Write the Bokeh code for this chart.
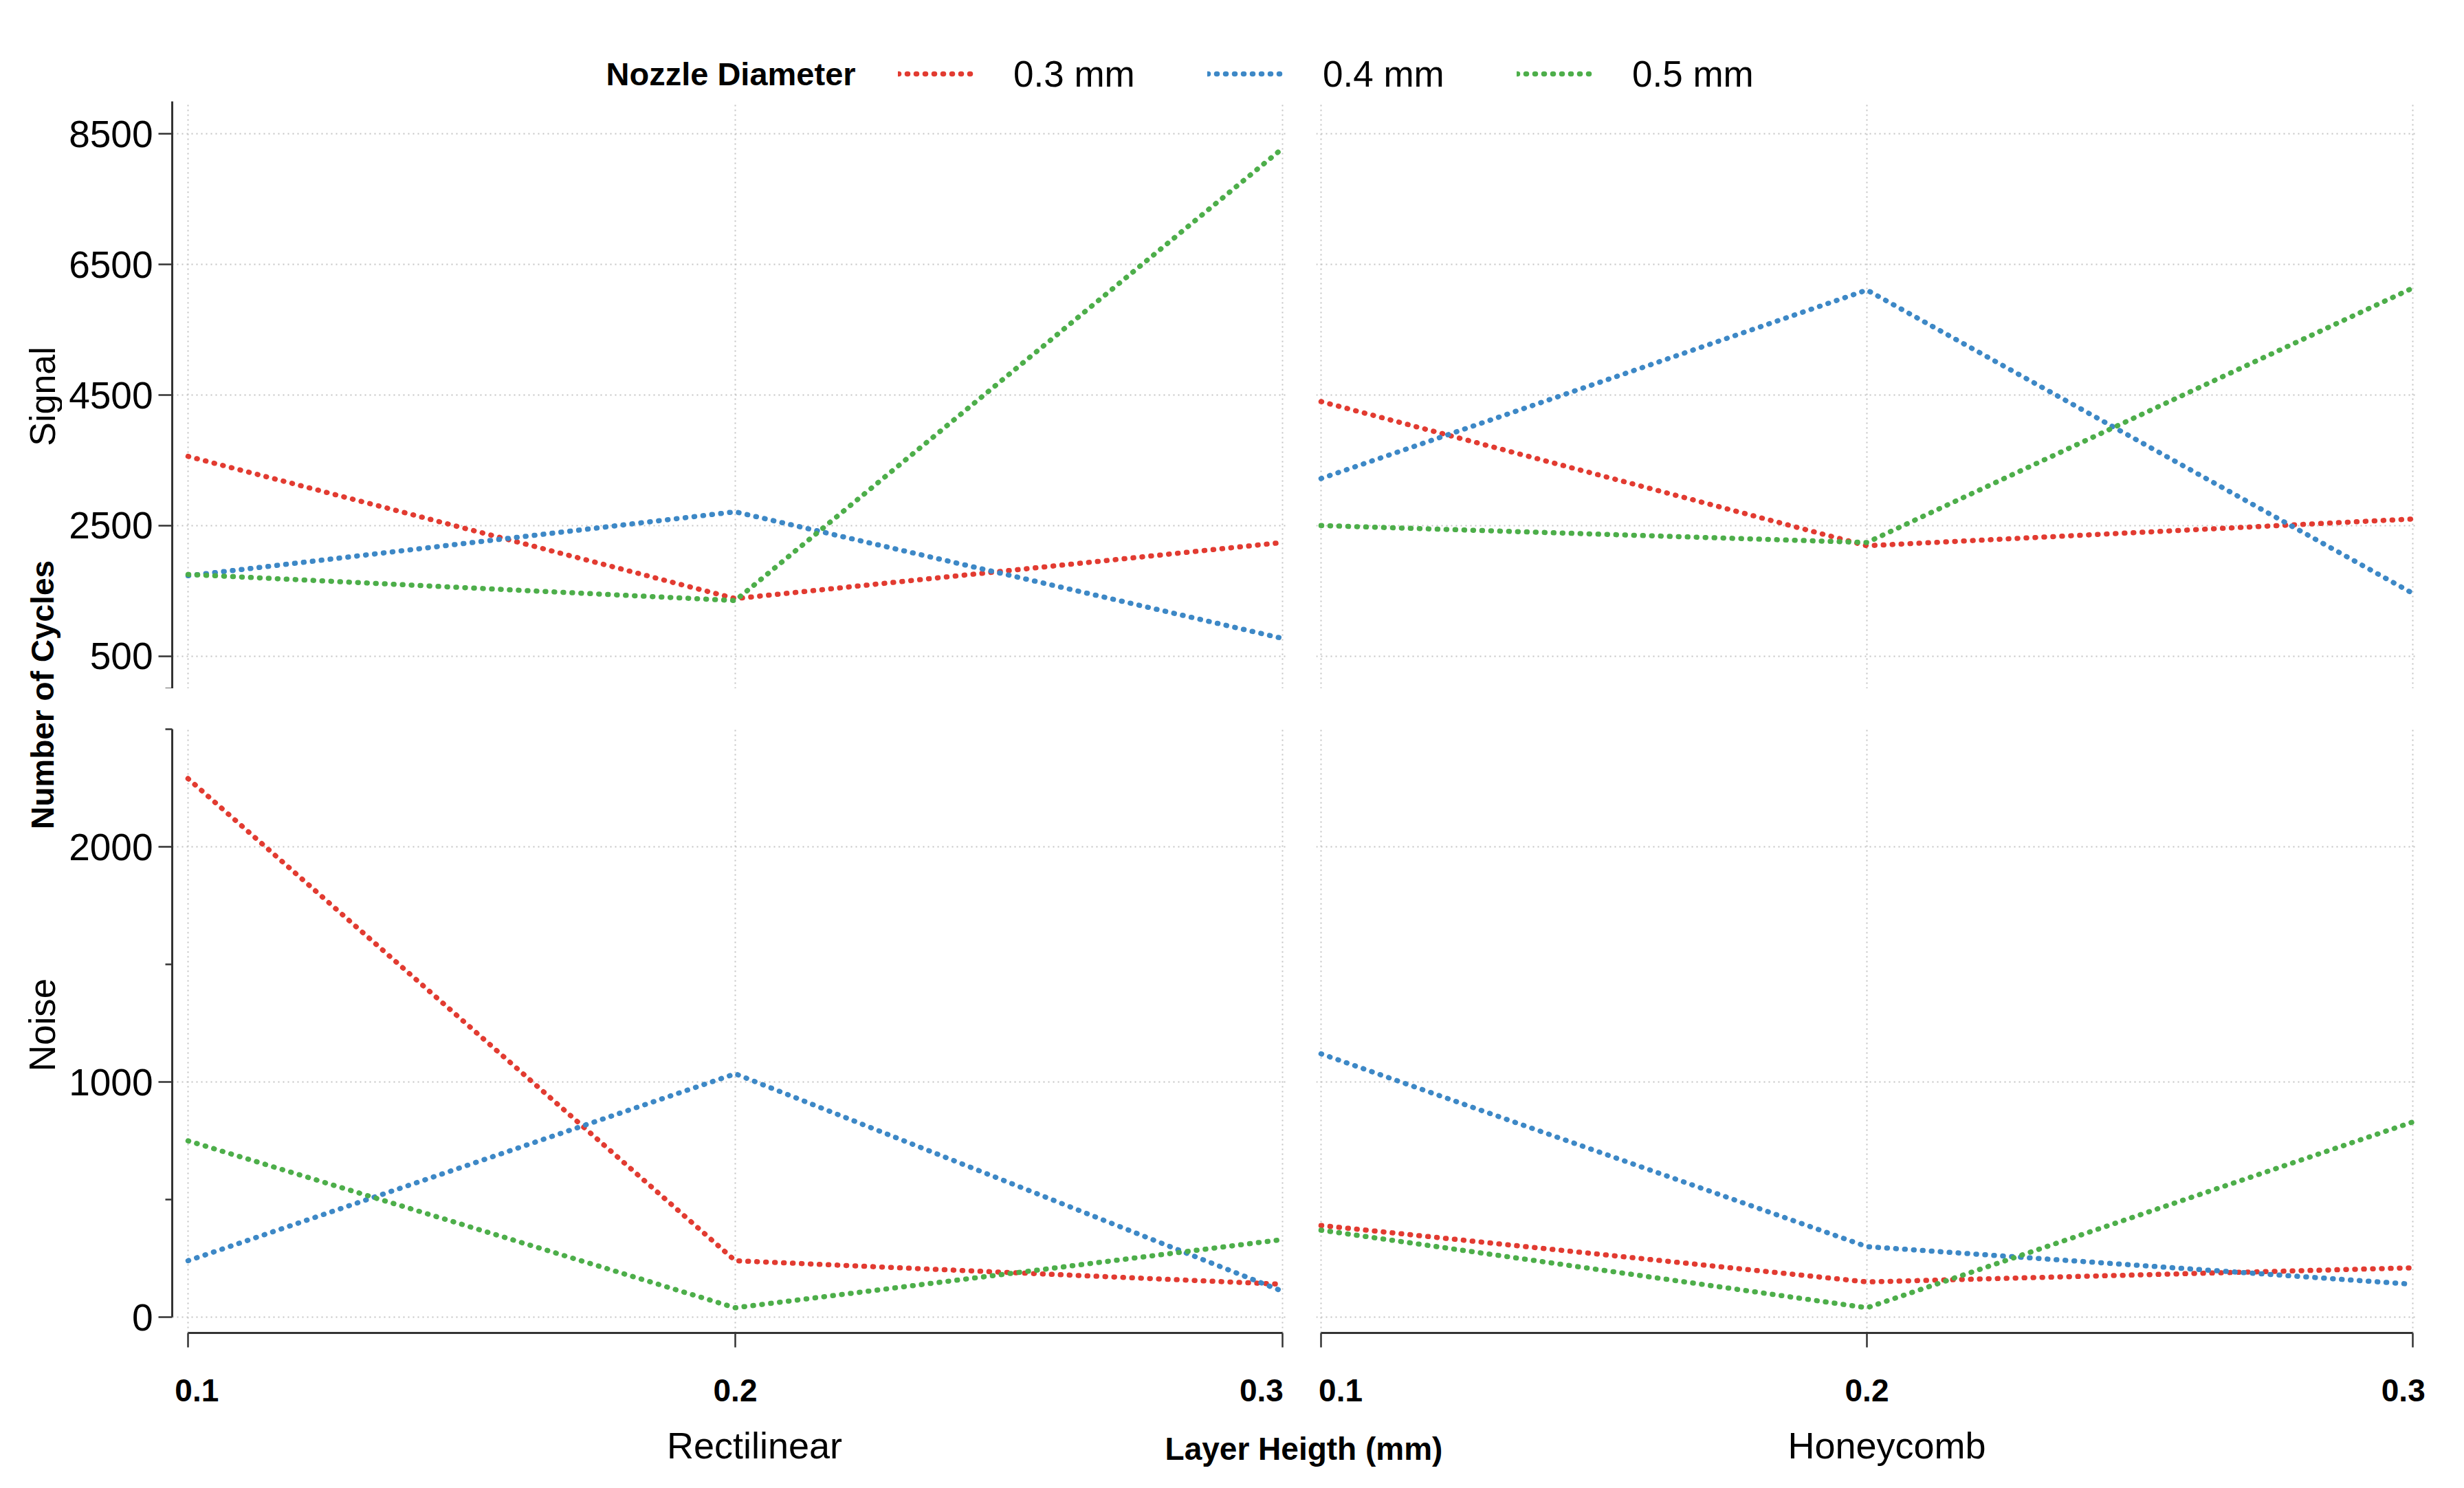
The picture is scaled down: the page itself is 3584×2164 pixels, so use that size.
from math import pi
from bokeh.plotting import figure
from bokeh.layouts import row, column
from bokeh.models import (Range1d, LinearAxis, Grid, FixedTicker, Label,
                          Legend, LegendItem)
from bokeh.embed import file_html
from bokeh.resources import INLINE

# ---------------- data ----------------
layer_height = [0.1, 0.2, 0.3]
nozzles = ["0.3 mm", "0.4 mm", "0.5 mm"]

signal_rect_03 = [3560, 1380, 2240]
signal_rect_04 = [1730, 2710, 770]
signal_rect_05 = [1750, 1350, 8280]

signal_honey_03 = [4400, 2190, 2600]
signal_honey_04 = [3220, 6110, 1460]
signal_honey_05 = [2500, 2240, 6140]

noise_rect_03 = [2290, 240, 140]
noise_rect_04 = [240, 1035, 110]
noise_rect_05 = [750, 40, 330]

noise_honey_03 = [390, 150, 210]
noise_honey_04 = [1120, 300, 140]
noise_honey_05 = [370, 40, 830]

signal_ticks = [500, 2500, 4500, 6500, 8500]
noise_ticks = [0, 1000, 2000]
noise_minor_ticks = [500, 1500, 2500]
x_ticks = [0.1, 0.2, 0.3]

# ---------------- style ----------------
FONT = "Liberation Sans"
colors = ["#e23b31", "#3d88c6", "#4dae4a"]
AX = "#333333"
GRID = "#c4c4c4"
DASH = "1 12"
LW = 7.5


def make_panel(width, height, xr, yr, bl, br, bt, bb, series, yticks):
    p = figure(width=width, height=height, x_range=xr, y_range=yr,
               x_axis_type=None, y_axis_type=None,
               min_border_left=bl, min_border_right=br,
               min_border_top=bt, min_border_bottom=bb,
               output_backend="svg", toolbar_location=None)
    p.outline_line_color = None
    p.background_fill_color = "white"
    p.border_fill_color = "white"
    p.add_layout(Grid(dimension=0, ticker=FixedTicker(ticks=x_ticks),
                      grid_line_color=GRID, grid_line_dash="2 5",
                      grid_line_width=2))
    p.add_layout(Grid(dimension=1, ticker=FixedTicker(ticks=yticks),
                      grid_line_color=GRID, grid_line_dash="2 5",
                      grid_line_width=2))
    for ys, c in zip(series, colors):
        p.line(layer_height, ys, line_color=c, line_width=LW,
               line_dash=DASH, line_cap="round")
    return p


def style_axis(ax):
    ax.axis_line_color = AX
    ax.axis_line_width = 3
    ax.major_tick_line_color = AX
    ax.major_tick_line_width = 2.5
    ax.major_tick_in = 0
    ax.minor_tick_line_color = AX
    ax.minor_tick_line_width = 2.5
    ax.minor_tick_in = 0
    ax.major_label_text_color = "black"
    ax.major_label_text_font = FONT


def y_axis(ticks, minor, bounds):
    ax = LinearAxis(ticker=FixedTicker(ticks=ticks, minor_ticks=minor),
                    bounds=bounds)
    style_axis(ax)
    ax.major_tick_out = 20
    ax.minor_tick_out = 10
    ax.major_label_standoff = 8
    ax.major_label_text_font_size = "55px"
    return ax


def x_axis(overrides):
    ax = LinearAxis(ticker=FixedTicker(ticks=x_ticks), bounds=(0.1, 0.3),
                    major_label_overrides=overrides)
    style_axis(ax)
    ax.major_tick_out = 21
    ax.minor_tick_out = 0
    ax.major_label_standoff = 36
    ax.major_label_text_font_size = "46px"
    ax.major_label_text_font_style = "bold"
    return ax


NB = "\u00a0"
xr_left = (0.09711, 0.30088)
xr_right = (0.09912, 0.30088)
sig_range = (0, 9000)
noise_range = (-67, 2500)

# top row: Signal
tl = make_panel(1802, 854, Range1d(*xr_left), Range1d(*sig_range), 160, 20, 0, 0,
                [signal_rect_03, signal_rect_04, signal_rect_05], signal_ticks)
tl.add_layout(y_axis(signal_ticks, [0], sig_range), "left")

tr = make_panel(1648, 854, Range1d(*xr_right), Range1d(*sig_range), 22, 24, 0, 0,
                [signal_honey_03, signal_honey_04, signal_honey_05], signal_ticks)

# bottom row: Noise
bl = make_panel(1802, 1058, Range1d(*xr_left), Range1d(*noise_range), 160, 20, 59, 121,
                [noise_rect_03, noise_rect_04, noise_rect_05], noise_ticks)
bl.add_layout(y_axis(noise_ticks, noise_minor_ticks, (0, 2500)), "left")
bl.add_layout(x_axis({0.1: NB * 2 + "0.1", 0.3: "0.3" + NB * 2}), "below")

br = make_panel(1648, 1058, Range1d(*xr_right), Range1d(*noise_range), 22, 24, 59, 121,
                [noise_honey_03, noise_honey_04, noise_honey_05], noise_ticks)
br.add_layout(x_axis({0.1: NB * 2 + "0.1", 0.3: "0.3" + NB}), "below")


def blank(width, height):
    f = figure(width=width, height=height, x_range=Range1d(0, 1),
               y_range=Range1d(0, 1), x_axis_type=None, y_axis_type=None,
               min_border=0, output_backend="svg", toolbar_location=None)
    f.outline_line_color = None
    f.grid.visible = False
    return f


# legend strip
top = blank(3450, 147)
top.add_layout(Label(x=791, y=40, x_units="screen", y_units="screen",
                     text="Nozzle Diameter", text_font=FONT,
                     text_font_size="47px", text_font_style="bold",
                     text_align="left", text_baseline="middle",
                     text_color="black"))
items = []
for name, c in zip(nozzles, colors):
    # legend key renderers: their points sit outside the strip's visible range
    r = top.line([5, 6], [5, 6], line_color=c, line_width=LW, line_dash=DASH,
                 line_cap="round")
    items.append(LegendItem(label=name, renderers=[r]))
legend = Legend(items=items, orientation="horizontal", location=(1216, 8),
                glyph_width=115, glyph_height=64, label_height=64,
                label_width=177, label_standoff=53, spacing=105,
                padding=0, margin=0, border_line_color=None,
                background_fill_alpha=0, label_text_font=FONT,
                label_text_font_size="53px", label_text_color="black")
top.add_layout(legend)

# bottom strip with panel names and common x label
bottom = blank(3450, 83)
for txt, xc, yb, style, size in [("Rectilinear", 1007, 41, "normal", "54px"),
                                 ("Honeycomb", 2654, 41, "normal", "54px"),
                                 ("Layer Heigth (mm)", 1806, 36, "bold", "46px")]:
    bottom.add_layout(Label(x=xc, y=yb, x_units="screen", y_units="screen",
                            text=txt, text_font=FONT, text_font_size=size,
                            text_font_style=style, text_align="center",
                            text_baseline="alphabetic", text_color="black"))

# left label column
left = blank(90, 2142)
for txt, yc, style, size in [("Signal", 1566, "normal", "52px"),
                             ("Noise", 652, "normal", "53px"),
                             ("Number of Cycles", 1132, "bold", "46px")]:
    left.add_layout(Label(x=61, y=yc, x_units="screen", y_units="screen",
                          text=txt, angle=pi / 2, text_font=FONT,
                          text_font_size=size, text_font_style=style,
                          text_align="center", text_baseline="middle",
                          text_color="black"))

layout = row(left, column(top, row(tl, tr), row(bl, br), bottom))

open("out.html", "w").write(file_html(layout, INLINE))
